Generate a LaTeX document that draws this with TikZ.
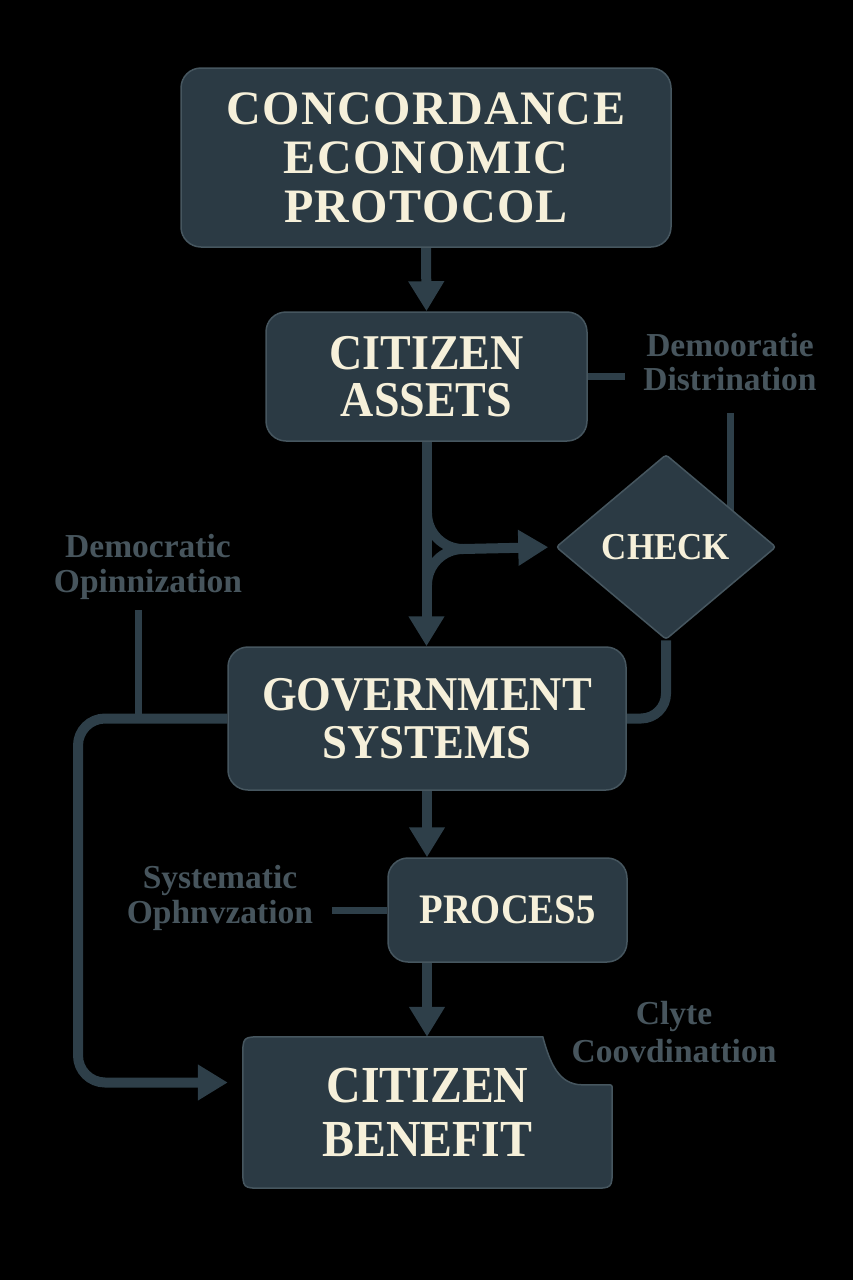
\documentclass[tikz,border=0pt]{standalone}
\usepackage{fontspec}
\newfontfamily\titlefont{Liberation Serif}[FakeStretch=0.92]
\newfontfamily\widetitlefont{Liberation Serif}[LetterSpace=3]
\newfontfamily\labelfont{Liberation Serif}
\usetikzlibrary{arrows.meta,shapes.geometric,calc}
\pgfdeclarelayer{back}\pgfdeclarelayer{lines}\pgfdeclarelayer{shapes}
\pgfsetlayers{back,lines,shapes,main}
\definecolor{boxfill}{HTML}{2B3A44}
\definecolor{boxedge}{HTML}{46565F}
\definecolor{linecol}{HTML}{2E3F49}
\definecolor{cream}{HTML}{F6F0DA}
\definecolor{lblcol}{HTML}{47555D}
\tikzset{
  box/.style={draw=boxedge, line width=1.5pt, fill=boxfill, rounded corners=20pt, inner sep=0pt, text=cream, align=center},
  conn/.style={draw=linecol, line width=10pt},
  lblline/.style={draw=linecol, line width=7pt},
  arr/.style={-{Triangle[width=34pt,length=30pt]}},
  lbl/.style={text=lblcol, align=center, inner sep=0pt, font=\labelfont\bfseries\fontsize{33.5}{34.5}\selectfont},
}
\begin{document}
\begin{tikzpicture}[x=1pt,y=-1pt]
\useasboundingbox (0,0) rectangle (853,1280);
\begin{pgfonlayer}{back}
\fill[black] (0,0) rectangle (853,1280);
\end{pgfonlayer}

% boxes
\node[box, minimum width=490pt, minimum height=179pt, font=\widetitlefont\bfseries\fontsize{48}{49}\selectfont] (top) at (426,157.5) {CONCORDANCE\\ECONOMIC\\PROTOCOL};
\node[box, minimum width=321pt, minimum height=129pt, font=\titlefont\bfseries\fontsize{50}{46.5}\selectfont] (assets) at (426.5,376.5) {CITIZEN\\ASSETS};
\node[box, diamond, rounded corners=3pt, minimum width=220pt, minimum height=185pt, font=\titlefont\bfseries\fontsize{38}{38}\selectfont] (check) at (666,547) {CHECK};
\node[box, minimum width=398pt, minimum height=143pt, font=\titlefont\bfseries\fontsize{48.5}{47.5}\selectfont] (gov) at (427,718.5) {GOVERNMENT\\SYSTEMS};
\node[box, minimum width=239pt, minimum height=104pt, font=\titlefont\bfseries\fontsize{42}{42}\selectfont] (proc) at (507.5,910) {PROCES5};
\node[inner sep=0pt, minimum width=369pt, minimum height=151pt, text=cream, align=center, font=\titlefont\bfseries\fontsize{52}{54}\selectfont] (cb) at (427.5,1112.5) {CITIZEN\\BENEFIT};

% labels
\node[lbl] (dd) at (730,362) {Demooratie\\Distrination};
\node[lbl, font=\labelfont\bfseries\fontsize{33.5}{35.5}\selectfont] (dop) at (148,567) {Democratic\\Opinnization};
\node[lbl] (sys) at (220,898) {Systematic\\Ophnvzation};
\node[lbl, font=\labelfont\bfseries\fontsize{33.5}{37.5}\selectfont] (cly) at (674,1032) {Clyte\\Coovdinattion};

% helper coordinates
\coordinate (ddL) at (625,376.5);
\coordinate (ddB) at (730,413);
\coordinate (doB) at (138,610);
\coordinate (syR) at (332,910);
\coordinate (fkA) at (427,513);
\coordinate (fkB) at (427,585);
\coordinate (fkM) at (463,549);
\coordinate (lpT) at (78,718.5);
\coordinate (lpB) at (78,1082.5);

% citizen benefit notched shape
\begin{pgfonlayer}{shapes}
\filldraw[fill=boxfill, draw=boxedge, line width=1.5pt]
  ($(cb.north west)+(20,0)$) -- ($(cb.north west)+(300,0)$)
  .. controls ($(cb.north west)+(307,26)$) and ($(cb.north west)+(316,48)$) .. ($(cb.north east)+(-30,48)$)
  -- ($(cb.north east)+(-5,48)$) .. controls ($(cb.north east)+(0,48)$) .. ($(cb.north east)+(0,53)$)
  -- ($(cb.south east)+(0,-20)$) .. controls (cb.south east) .. ($(cb.south east)+(-20,0)$)
  -- ($(cb.south west)+(20,0)$) .. controls (cb.south west) .. ($(cb.south west)+(0,-20)$)
  -- ($(cb.north west)+(0,20)$) .. controls (cb.north west) .. ($(cb.north west)+(20,0)$) -- cycle;
\end{pgfonlayer}

% connectors
\begin{pgfonlayer}{lines}
\draw[conn,arr] (top.south) -- (assets.north);
\draw[conn,arr] (assets.south) -- (assets.south |- gov.north);
\draw[conn] (fkA) to[out=-90,in=180] (fkM);
\draw[conn] (fkB) to[out=90,in=180] (fkM);
\draw[conn,arr,shorten >=7pt] (fkM) -- (check.west);
\draw[lblline] (assets.east) -- (ddL);
\draw[lblline] (ddB) -- (ddB |- check.east);
\draw[conn, rounded corners=25pt] (check.south) |- (gov.east);
\draw[conn, rounded corners=27pt, arr, shorten >=15pt] (gov.west) -- (lpT) -- (lpB) -- ([yshift=30pt]cb.west);
\draw[lblline] (doB) -- (doB |- gov.west);
\draw[conn,arr] (gov.south) -- (gov.south |- proc.north);
\draw[lblline] (syR) -- (proc.west);
\draw[conn,arr] (gov.south |- proc.south) -- (gov.south |- cb.north);
\end{pgfonlayer}
\end{tikzpicture}
\end{document}
